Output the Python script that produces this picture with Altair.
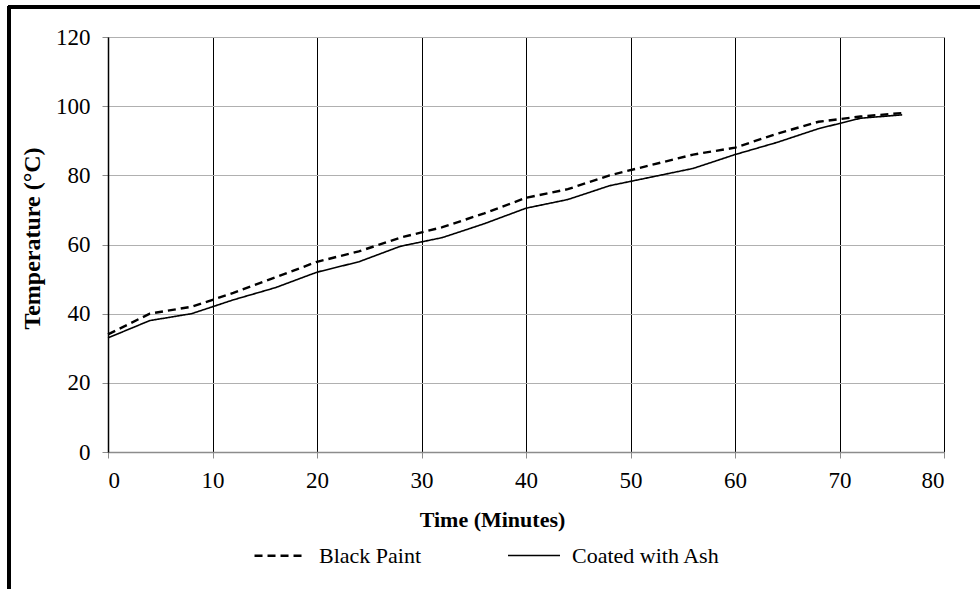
import altair as alt
import pandas as pd

minutes = [0, 4, 8, 12, 16, 20, 24, 28, 32, 36, 40, 44, 48, 52, 56, 60, 64, 68, 72, 76]
black_paint = [34, 40, 42, 46, 50.5, 55, 58, 62, 65, 69, 73.5, 76, 80, 83, 86, 88, 92, 95.5, 97, 98]
coated_ash = [33, 38, 40, 44, 47.5, 52, 55, 59.5, 62, 66, 70.5, 73, 77, 79.5, 82, 86, 89.5, 93.5, 96.5, 97.5]
series = ["Black Paint", "Coated with Ash"]
x_ticks = [0, 10, 20, 30, 40, 50, 60, 70, 80]
y_ticks = [0, 20, 40, 60, 80, 100, 120]

rows = []
for m, v in zip(minutes, black_paint):
    rows.append({"Time": m, "Temp": v, "Series": series[0]})
for m, v in zip(minutes, coated_ash):
    rows.append({"Time": m, "Temp": v, "Series": series[1]})
df = pd.DataFrame(rows)

FONT = "Liberation Serif"

lines = alt.Chart(df).mark_line(color="black").encode(
    x=alt.X("Time:Q", scale=alt.Scale(domain=[0, 80], nice=False),
            axis=alt.Axis(values=x_ticks, title="Time (Minutes)",
                          grid=True, gridColor="black", gridWidth=1,
                          domainColor="#8c8c8c", domainWidth=1.5,
                          tickColor="#8c8c8c", tickSize=6,
                          labelFont=FONT, labelFontSize=23, labelColor="black",
                          labelPadding=11,
                          titleFont=FONT, titleFontSize=22, titleFontWeight="bold",
                          titleColor="black", titleX=384, titleY=74,
                          titleAlign="center", titleBaseline="alphabetic")),
    y=alt.Y("Temp:Q", scale=alt.Scale(domain=[0, 120], nice=False),
            axis=alt.Axis(values=y_ticks, title="Temperature (°C)",
                          grid=True, gridColor="#b0b0b0", gridWidth=1,
                          domainColor="black", domainWidth=1.5,
                          tickColor="#8c8c8c", tickSize=6,
                          labelFont=FONT, labelFontSize=23, labelColor="black",
                          labelPadding=12,
                          titleFont=FONT, titleFontSize=24, titleFontWeight="bold",
                          titleColor="black", titleX=-76, titleY=201,
                          titleAngle=270, titleAlign="center", titleBaseline="middle")),
    strokeDash=alt.StrokeDash("Series:N",
                              scale=alt.Scale(domain=series, range=[[8, 5], [1, 0]]),
                              legend=alt.Legend(title=None, orient="none",
                                                legendX=145, legendY=491,
                                                direction="horizontal",
                                                symbolType="stroke",
                                                symbolSize=2700,
                                                symbolStrokeColor="black",
                                                symbolStrokeWidth=2,
                                                labelFont=FONT, labelFontSize=22,
                                                labelColor="black",
                                                labelOffset=11,
                                                columnPadding=82)),
    strokeWidth=alt.StrokeWidth("Series:N",
                                scale=alt.Scale(domain=series, range=[2.4, 1.6]),
                                legend=None),
)

frame_top = alt.Chart(df).mark_rule(color="black", strokeWidth=2.5).encode(
    x=alt.value(-100), x2=alt.value(900), y=alt.value(-30)
)
frame_left = alt.Chart(df).mark_rule(color="black", strokeWidth=2.5).encode(
    x=alt.value(-99), y=alt.value(-31), y2=alt.value(600)
)

chart = alt.layer(lines, frame_top, frame_left).properties(
    width=836, height=415,
    autosize=alt.AutoSizeParams(type="none"),
    padding={"left": 108, "top": 37, "right": 36, "bottom": 137},
).configure(
    background="white", font=FONT
).configure_view(stroke=None)

chart.save("out.html", embed_options={"renderer": "svg", "actions": False})
